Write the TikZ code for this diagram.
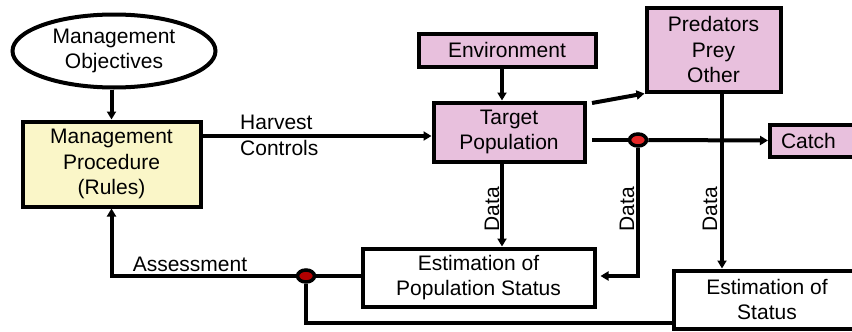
\documentclass[tikz,border=0pt]{standalone}
\usepackage{fontspec}
\setmainfont{Liberation Sans}
\usetikzlibrary{arrows.meta,shapes.geometric,calc}
\definecolor{boxyellow}{RGB}{250,246,200}
\definecolor{boxpink}{RGB}{232,192,221}
\definecolor{dotred}{RGB}{230,40,40}
\begin{document}
\begin{tikzpicture}[x=1pt,y=-1pt,
  every node/.style={font=\fontsize{21}{25.5}\selectfont},
  box/.style={draw, line width=4pt, align=center, inner sep=0pt},
  pinkbox/.style={box, fill=boxpink},
  conn/.style={line width=4pt},
  arr/.style={conn, -{Triangle[length=8pt,width=9pt]}},
  lbl/.style={inner sep=0pt, align=left},
  datalbl/.style={inner sep=0pt, rotate=90, font=\fontsize{21}{25}\selectfont},
  joint/.style={draw, ellipse, line width=3.5pt, inner sep=0pt, minimum width=17pt, minimum height=12pt}
]
\useasboundingbox (0,0) rectangle (852,332);
\fill[white] (0,0) rectangle (852,332);

% nodes
\node[draw, ellipse, line width=4pt, inner sep=0pt, minimum width=203pt, minimum height=73pt, align=center] (obj) at (114,51) {Management\\Objectives};
\node[box, fill=boxyellow, minimum width=178pt, minimum height=85pt] (proc) at (111.5,164) {Management\\Procedure\\(Rules)};
\node[pinkbox, minimum width=177pt, minimum height=33pt] (env) at (507,50) {Environment};
\node[pinkbox, minimum width=151pt, minimum height=59pt] (target) at (509,132) {Target\\Population};
\node[pinkbox, minimum width=134pt, minimum height=84pt] (pred) at (713.5,49.5) {Predators\\Prey\\Other};
\node[pinkbox, anchor=west, text width=78pt, inner xsep=11pt, minimum height=32pt, align=left] (catch) at (768,140.5) {Catch};
\node[box, minimum width=232pt, minimum height=58pt] (estpop) at (478.5,277.5) {Estimation of\\Population Status};
\node[box, anchor=west, minimum width=186pt, minimum height=58pt] (eststat) at (672,299.5) {Estimation of\\Status};

% junctions
\coordinate (tstart1) at (592,103);
\coordinate (tstart2) at (592,140);
\node[joint, fill=dotred] (j1) at (638,140) {};
\node[joint, fill=red!70!black] (j2) at (306,276) {};

% connectors
\draw[arr] (proc.north |- obj.south) -- (proc.north);
\draw[arr] (proc.east |- 0,136) -- (target.west |- 0,136);
\draw[arr] (env.south -| 502,0) -- (target.north -| 502,0);
\draw[arr] (tstart1) -- (pred.south west);
\draw[conn] (tstart2) -- (j1.west);
\draw[arr] (j1.east) -- (catch.west);
\draw[arr] (target.south -| 502,0) -- (estpop.north -| 502,0);
\draw[arr] (j1.south) -- (j1 |- 0,276) -- ($(estpop.east |- 0,276)+(4,0)$);
\draw[arr] (pred.south -| 722,0) -- (eststat.north -| 722,0);
\draw[conn] (estpop.west |- 0,276) -- (j2.east);
\draw[arr] (j2.west) -- (proc.south |- 0,276) -- (proc.south);
\draw[conn] (j2.south) -- (j2 |- 0,323) -- (eststat.west |- 0,323);

% labels
\node[lbl, anchor=west] (hc) at (240,135.5) {Harvest\\Controls};
\node[lbl] (assess) at (190,264) {Assessment};
\node[datalbl] (d1) at (492,209) {Data};
\node[datalbl] (d2) at (627,209) {Data};
\node[datalbl] (d3) at (710,209) {Data};
\end{tikzpicture}
\end{document}
